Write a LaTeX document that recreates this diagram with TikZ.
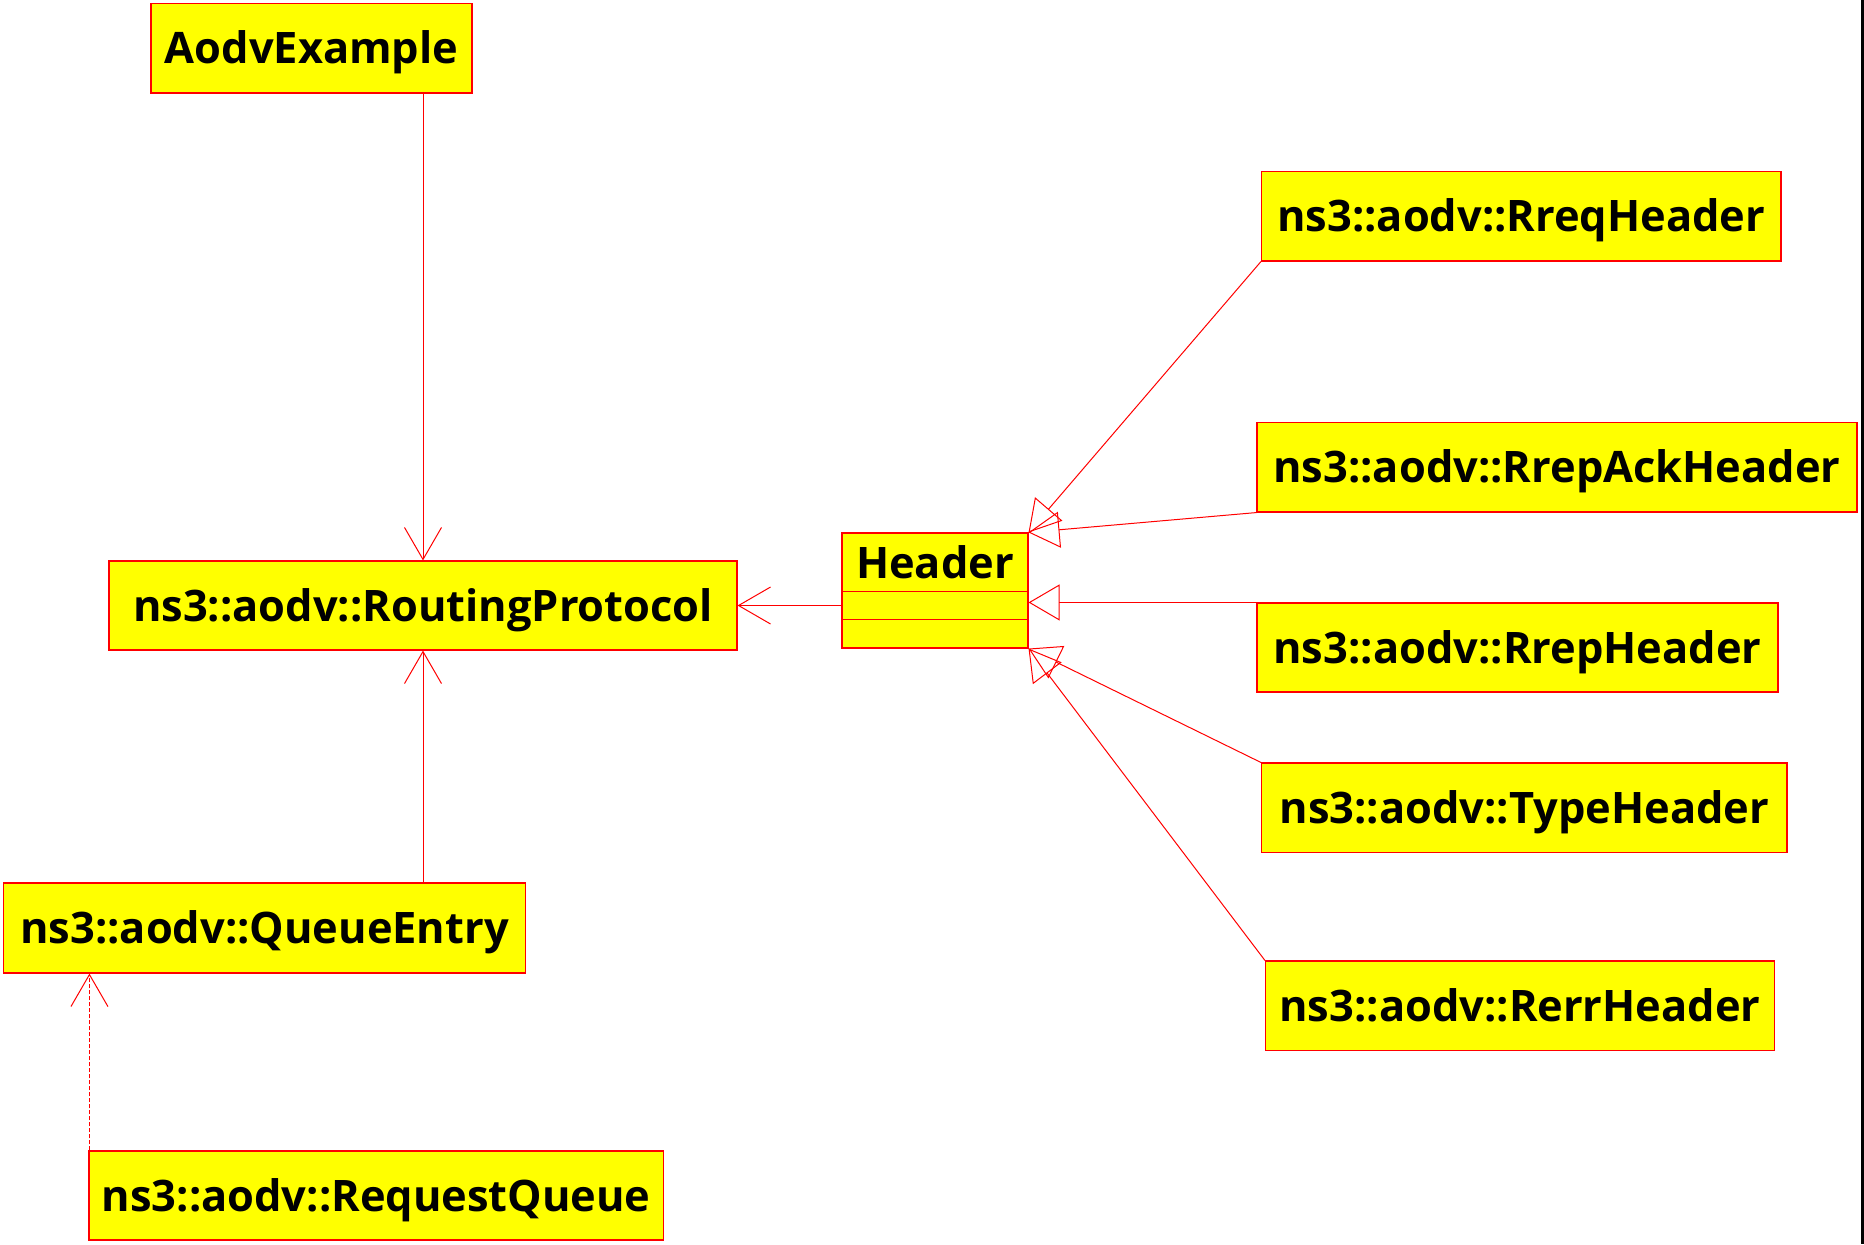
\documentclass[tikz,border=0pt]{standalone}
\usepackage{fontspec}
\setmainfont{Open Sans}
\usetikzlibrary{arrows.meta,calc}
\definecolor{umlred}{RGB}{255,0,0}
\definecolor{umlyellow}{RGB}{255,255,0}
\tikzset{
  cls/.style={draw=umlred, fill=umlyellow, line width=0.55pt, inner sep=0pt,
    font=\bfseries\fontsize{21.7}{26}\selectfont, text=black,
    text height=15.5pt, text depth=0pt, align=center},
  lbl/.style={inner sep=0pt, font=\bfseries\fontsize{21.7}{26}\selectfont, text=black,
    text height=15.5pt, text depth=0pt},
  umlline/.style={draw=umlred, line width=0.5pt},
  assoc/.style={umlline, -{Straight Barb[length=16pt,width=18.5pt]}},
  gen/.style={umlline, -{Triangle[open,length=15.5pt,width=18pt]}},
}
\begin{document}
\begin{tikzpicture}[x=0.5pt,y=-0.5pt]
\fill[white] (0,0) rectangle (1864,1244);
\useasboundingbox (0,0) rectangle (1864,1244);
\fill[black] (1861,0) rectangle (1864,1244);

\node[cls, minimum width=160.5pt, minimum height=44.75pt] (ae) at (311.5,48.25) {AodvExample};
\node[cls, minimum width=314pt, minimum height=44.5pt] (rp) at (423,605.5) {ns3::aodv::RoutingProtocol};
\node[cls, minimum width=93pt, minimum height=57.5pt] (header) at (935,590.5) {};
\node[lbl] (headername) at (935,562.5) {Header};
\node[cls, minimum width=259.75pt, minimum height=44.75pt] (rreq) at (1521.25,216.25) {ns3::aodv::RreqHeader};
\node[cls, minimum width=300pt, minimum height=44.75pt] (rrepack) at (1557,467.25) {ns3::aodv::RrepAckHeader};
\node[cls, minimum width=260.5pt, minimum height=44.5pt] (rrep) at (1517.5,647.5) {ns3::aodv::RrepHeader};
\node[cls, minimum width=262.75pt, minimum height=44.75pt] (type) at (1524.25,807.75) {ns3::aodv::TypeHeader};
\node[cls, minimum width=254.5pt, minimum height=44.75pt] (rerr) at (1520,1005.75) {ns3::aodv::RerrHeader};
\node[cls, minimum width=261pt, minimum height=45pt] (qe) at (264.5,928) {ns3::aodv::QueueEntry};
\node[cls, minimum width=287.25pt, minimum height=44.5pt] (rq) at (376.25,1195.5) {ns3::aodv::RequestQueue};

% header compartments
\draw[umlline, line width=0.55pt] ($(header.north west)+(0,59)$) -- ($(header.north east)+(0,59)$);
\draw[umlline, line width=0.55pt] ($(header.north west)+(0,87)$) -- ($(header.north east)+(0,87)$);

% associations
\draw[assoc] (ae.south -| rp.north) -- (rp.north);
\draw[assoc] (qe.north -| rp.south) -- (rp.south);
\draw[assoc] (header.west |- rp.east) -- (rp.east);
\draw[assoc, dash pattern=on 2pt off 1pt] ($(rq.north west)+(1,0)$) -- ($(rq.north west |- qe.south)+(1,0)$);

% generalizations
\draw[gen] (rreq.south west) -- (header.north east);
\draw[gen] (rrepack.south west) -- (header.north east);
\draw[gen] (rrep.north west) -- (rrep.north west -| header.east);
\draw[gen] (type.north west) -- (header.south east);
\draw[gen] (rerr.north west) -- (header.south east);
\end{tikzpicture}
\end{document}
